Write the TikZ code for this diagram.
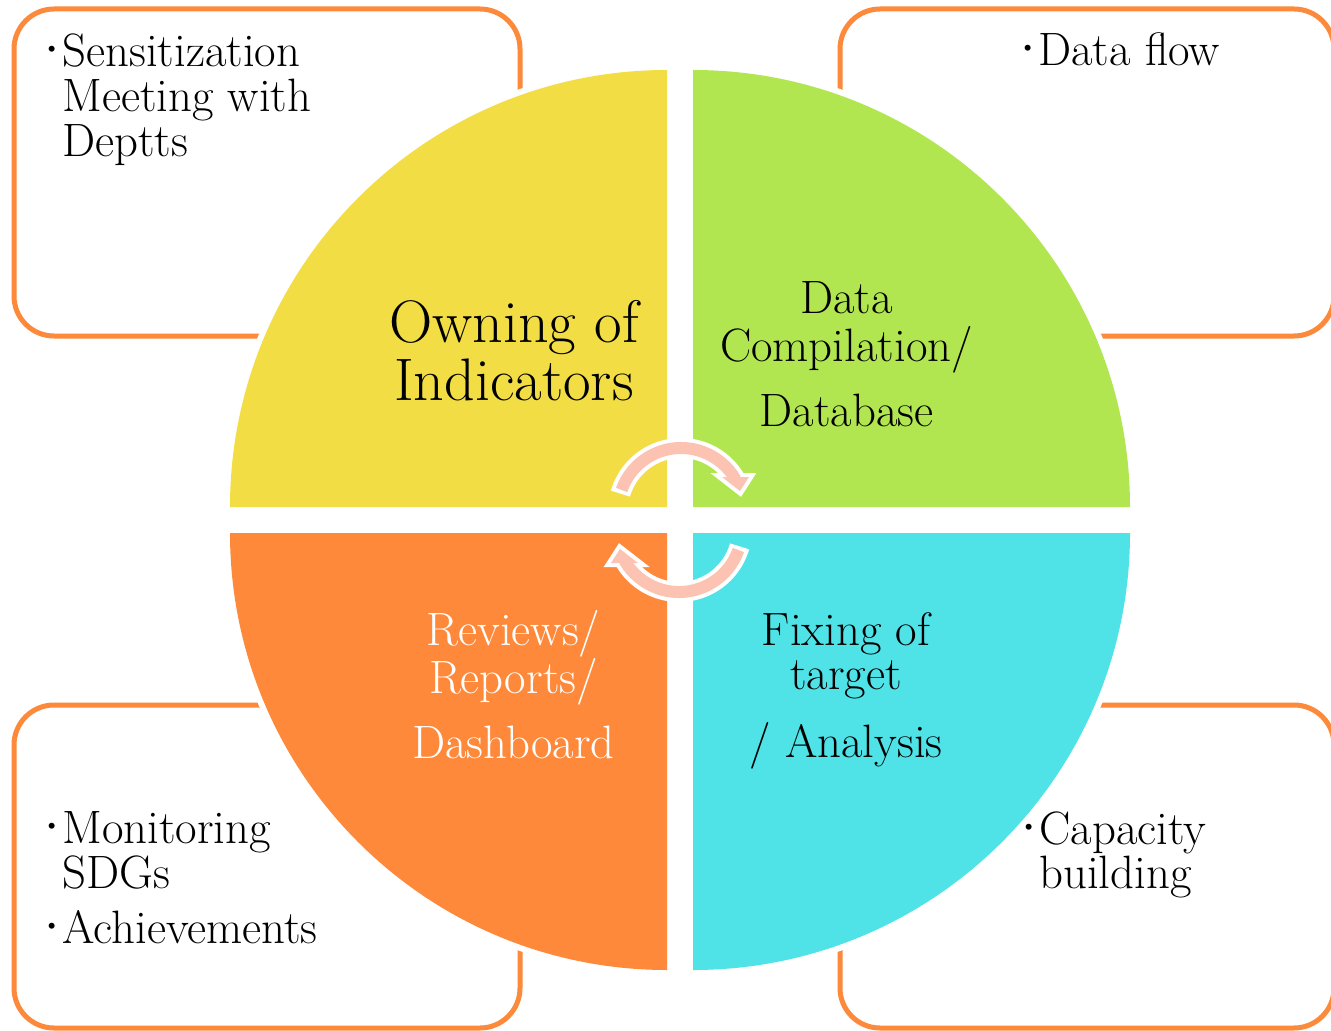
\documentclass[tikz,border=0pt]{standalone}
\usepackage{fontspec}
\usetikzlibrary{calc}
\definecolor{qyellow}{RGB}{242,221,68}
\definecolor{qgreen}{RGB}{177,230,81}
\definecolor{qorange}{RGB}{254,137,58}
\definecolor{qcyan}{RGB}{79,227,232}
\definecolor{boxorange}{RGB}{253,137,58}
\definecolor{apink}{RGB}{252,195,178}
\newcommand\bulitem{\makebox[9.5pt][l]{\raisebox{6pt}{\fontsize{11}{11}\selectfont\textbullet}}}
\begin{document}
\begin{tikzpicture}[x=0.5pt,y=0.5pt,
  box/.style={draw=boxorange, line width=2.5pt, rounded corners=20pt, fill=white, inner sep=0pt},
  quad/.style={preaction={draw=white, fill=white, line width=6pt}},
  listtxt/.style={inner sep=0pt, anchor=base west, font=\fontsize{23.4}{20.8}\selectfont},
  midtxt/.style={inner sep=0pt, anchor=base, font=\fontsize{23.4}{22}\selectfont},
  bigtxt/.style={inner sep=0pt, anchor=base, font=\fontsize{30}{28}\selectfont},
  arrwhite/.style={white, line width=10pt},
  arrpink/.style={apink, line width=6pt},
  headwhite/.style={fill=white, draw=white, line width=4pt, line join=miter},
  headpink/.style={fill=apink}
]
\clip (0,0) rectangle (1331,1030);
\fill[white] (0,0) rectangle (1331,1030);

% outer boxes
\node[box, minimum width=253pt, minimum height=163.5pt] (tlbox) at (267,857.5) {};
\node[box, minimum width=247pt, minimum height=163.5pt] (trbox) at (1087,857.5) {};
\node[box, minimum width=253pt, minimum height=161.5pt] (blbox) at (267,163.5) {};
\node[box, minimum width=247pt, minimum height=161.5pt] (brbox) at (1087,163.5) {};

% quadrants
\path[quad, fill=qyellow] (667,523) -- (230,523) arc[start angle=180, end angle=90, radius=218.5pt] -- cycle;
\path[quad, fill=qgreen]  (693,523) -- (693,960) arc[start angle=90, end angle=0, radius=218.5pt] -- cycle;
\path[quad, fill=qorange] (667,497) -- (230,497) arc[start angle=180, end angle=270, radius=218.5pt] -- cycle;
\path[quad, fill=qcyan]   (693,497) -- (1130,497) arc[start angle=0, end angle=-90, radius=218.5pt] -- cycle;

% quadrant labels
\node[bigtxt] (own) at (514,688) {\begin{tabular}[t]{@{}c@{}}Owning of\\Indicators\end{tabular}};
\node[midtxt] (dcl) at (846.5,717) {\begin{tabular}[t]{@{}c@{}}Data\\Compilation/\\[10pt]Database\end{tabular}};
\node[midtxt, text=white] (rev) at (513.5,385) {\begin{tabular}[t]{@{}c@{}}Reviews/\\Reports/\\[10pt]Dashboard\end{tabular}};
\node[midtxt] (fix) at (846,385) {\begin{tabular}[t]{@{}c@{}}Fixing of\\target\\[10pt]/ Analysis\end{tabular}};

% box texts
\node[listtxt] (tltext) at (43,963) {\begin{tabular}[t]{@{}l@{}l@{}}\bulitem & Sensitization\\ & Meeting with\\ & Deptts\end{tabular}};
\node[listtxt] (trtext) at (1019,964) {\begin{tabular}[t]{@{}l@{}l@{}}\bulitem & Data flow\end{tabular}};
\node[listtxt] (bltext) at (43,187) {\begin{tabular}[t]{@{}l@{}l@{}}\bulitem & Monitoring\\ & SDGs\\[5pt]\bulitem & Achievements\end{tabular}};
\node[listtxt] (brtext) at (1020,186) {\begin{tabular}[t]{@{}l@{}l@{}}\bulitem & Capacity\\ & building\end{tabular}};

% circular arrows
\coordinate (ta) at (681,519);
\coordinate (ba) at (679,501);
\draw[arrwhite] ($(ta)+(164:31.5pt)$) arc[start angle=164, end angle=30, radius=31.5pt];
\path[headwhite] (722,553) -- (749,553) -- (740,539) -- cycle;
\draw[arrwhite] ($(ba)+(344:31.5pt)$) arc[start angle=344, end angle=210, radius=31.5pt];
\path[headwhite] (638,467) -- (611,467) -- (620,481) -- cycle;

\draw[arrpink] ($(ta)+(160.5:31.5pt)$) arc[start angle=160.5, end angle=30, radius=31.5pt];
\path[headpink] (722,553) -- (749,553) -- (740,539) -- cycle;
\draw[arrpink] ($(ba)+(340.5:31.5pt)$) arc[start angle=340.5, end angle=210, radius=31.5pt];
\path[headpink] (638,467) -- (611,467) -- (620,481) -- cycle;
\end{tikzpicture}
\end{document}
